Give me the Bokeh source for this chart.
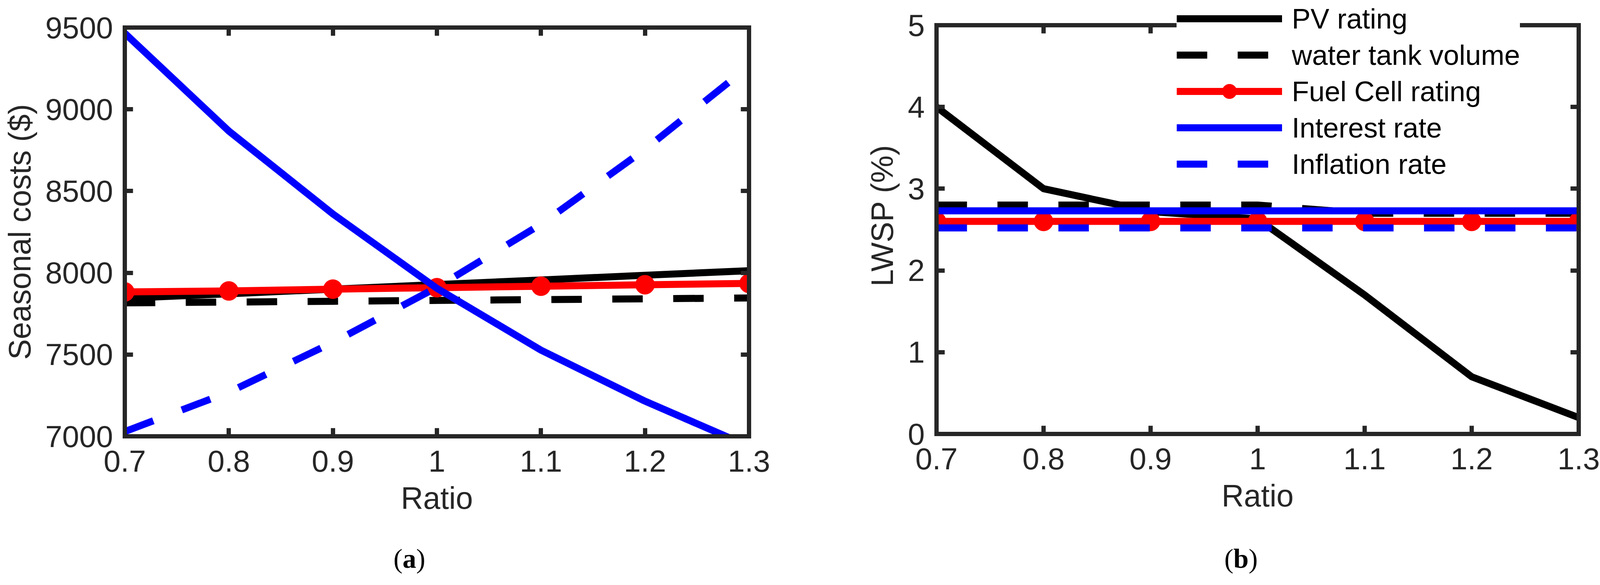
from bokeh.plotting import figure
from bokeh.models import Range1d, FixedTicker, LinearAxis, Legend, LegendItem, Div
from bokeh.layouts import row, column
from bokeh.embed import file_html
from bokeh.resources import INLINE

# shared x values
ratio = [0.7, 0.8, 0.9, 1.0, 1.1, 1.2, 1.3]
ratio_labels = ["0.7", "0.8", "0.9", "1", "1.1", "1.2", "1.3"]

series_names = ["PV rating", "water tank volume", "Fuel Cell rating",
                "Interest rate", "Inflation rate"]

# (a) seasonal costs ($)
cost_pv = [7844, 7872, 7900, 7928, 7956, 7985, 8013]
cost_tank = [7816, 7821, 7826, 7831, 7836, 7841, 7846]
cost_fc = [7883, 7889, 7900, 7909, 7918, 7927, 7935]
cost_interest = [9465, 8867, 8360, 7905, 7527, 7215, 6939]
cost_inflation = [7029, 7270, 7574, 7911, 8297, 8755, 9265]
cost_ticks = [7000, 7500, 8000, 8500, 9000, 9500]

# (b) LWSP (%)
lwsp_pv = [4.0, 3.0, 2.72, 2.63, 1.7, 0.7, 0.2]
lwsp_tank = [2.8, 2.8, 2.8, 2.8, 2.7, 2.7, 2.7]
lwsp_fc = [2.6, 2.6, 2.6, 2.6, 2.6, 2.6, 2.6]
lwsp_interest = [2.73, 2.73, 2.73, 2.73, 2.73, 2.73, 2.73]
lwsp_inflation = [2.52, 2.52, 2.52, 2.52, 2.52, 2.52, 2.52]
lwsp_ticks = [0, 1, 2, 3, 4, 5]

FRAME = "#262626"
SANS = "Liberation Sans"
LW = 18
DASH = "78 78"
FRAME_H = 1046
TOP = 64
EXT = 72
colors = ["black", "black", "red", "blue", "blue"]
dashes = ["solid", DASH, "solid", "solid", DASH]


def style_axis(ax, ticks, labels=True):
    ax.ticker = FixedTicker(ticks=ticks)
    ax.axis_line_color = FRAME
    ax.axis_line_width = 11
    ax.axis_line_cap = "square"
    ax.major_tick_line_color = FRAME
    ax.major_tick_line_width = 11
    ax.major_tick_in = 21
    ax.major_tick_out = 0
    ax.minor_tick_line_color = None
    if labels:
        ax.major_label_text_font = SANS
        ax.major_label_text_font_size = "78px"
        ax.major_label_text_color = FRAME
        ax.axis_label_text_font = SANS
        ax.axis_label_text_font_size = "79px"
        ax.axis_label_text_font_style = "normal"
        ax.axis_label_text_color = FRAME
    else:
        # tick marks only
        ax.major_label_text_color = None
        ax.major_label_text_font_size = "1px"
        ax.major_label_standoff = 0


def make_panel(ys, y_lo, y_hi, y_ticks, y_label, frame_w, left, right, open_top=False):
    # open_top: the frame runs up to the page top so the legend may sit over the box line
    if open_top:
        y_range = Range1d(y_lo, y_hi + (y_hi - y_lo) * EXT / FRAME_H)
        fh, mt, margin = FRAME_H + EXT, 70, (-78, 0, 0, 0)
    else:
        y_range = Range1d(y_lo, y_hi)
        fh, mt, margin = FRAME_H, TOP, 0
    p = figure(title=None, frame_width=frame_w, frame_height=fh,
               x_range=Range1d(0.7, 1.3), y_range=y_range,
               min_border_left=left, min_border_right=right,
               min_border_top=mt, min_border_bottom=290, margin=margin,
               output_backend="svg", toolbar_location=None,
               background_fill_color="white", border_fill_color="white")
    p.outline_line_color = None
    p.grid.visible = False

    style_axis(p.xaxis[0], ratio)
    p.xaxis[0].major_label_overrides = dict(zip(ratio, ratio_labels))
    p.xaxis[0].major_label_standoff = 36
    p.xaxis[0].axis_label = "Ratio"
    p.xaxis[0].axis_label_standoff = 20
    style_axis(p.yaxis[0], y_ticks)
    p.yaxis[0].major_label_standoff = 30
    p.yaxis[0].axis_label = y_label
    p.yaxis[0].axis_label_standoff = 18
    p.yaxis[0].bounds = (y_lo, y_hi)

    if open_top:
        top = LinearAxis(fixed_location=y_hi, bounds=(0.7, 1.3))
        style_axis(top, ratio, labels=False)
        top.major_tick_in = 0
        top.major_tick_out = 21
        p.add_layout(top, "below")
    else:
        top = LinearAxis()
        style_axis(top, ratio, labels=False)
        p.add_layout(top, "above")
    rgt = LinearAxis(bounds=(y_lo, y_hi))
    style_axis(rgt, y_ticks, labels=False)
    p.add_layout(rgt, "right")

    rends = []
    for y, c, d in zip(ys, colors, dashes):
        ln = p.line(ratio, y, line_width=LW, line_color=c, line_dash=d,
                    line_join="round")
        group = [ln]
        if c == "red":
            group.append(p.scatter(ratio, y, size=49, marker="circle",
                                   fill_color="red", line_color="red"))
        rends.append(group)
    return p, rends


p1, _ = make_panel([cost_pv, cost_tank, cost_fc, cost_interest, cost_inflation],
                   7000, 9500, cost_ticks, "Seasonal costs ($)", 1598, 319, 137)
p2, rends = make_panel([lwsp_pv, lwsp_tank, lwsp_fc, lwsp_interest, lwsp_inflation],
                       0, 5, lwsp_ticks, "LWSP (%)", 1644, 343, 67, open_top=True)

legend = Legend(items=[LegendItem(label=n, renderers=r) for n, r in zip(series_names, rends)],
                location=(615, 644), glyph_width=270, glyph_height=93,
                label_height=93, label_standoff=25, spacing=0, padding=32,
                margin=0, border_line_color=None, background_fill_color="white",
                background_fill_alpha=1.0, label_text_font=SANS,
                label_text_font_size="72px", label_text_color="black")
p2.add_layout(legend)


def caption(letter, pad_left):
    return Div(text=('<div style="width:2054px;box-sizing:border-box;padding-left:%dpx;'
                     'text-align:center;font-family:\'Liberation Serif\';'
                     'font-size:70px;line-height:60px;color:black;">(<b>%s</b>)</div>')
                    % (pad_left, letter),
               width=2054, height=70, margin=0)


page = column(row(p1, p2), row(caption("a", 42), caption("b", 192)))
open("out.html", "w").write(file_html(page, INLINE))
